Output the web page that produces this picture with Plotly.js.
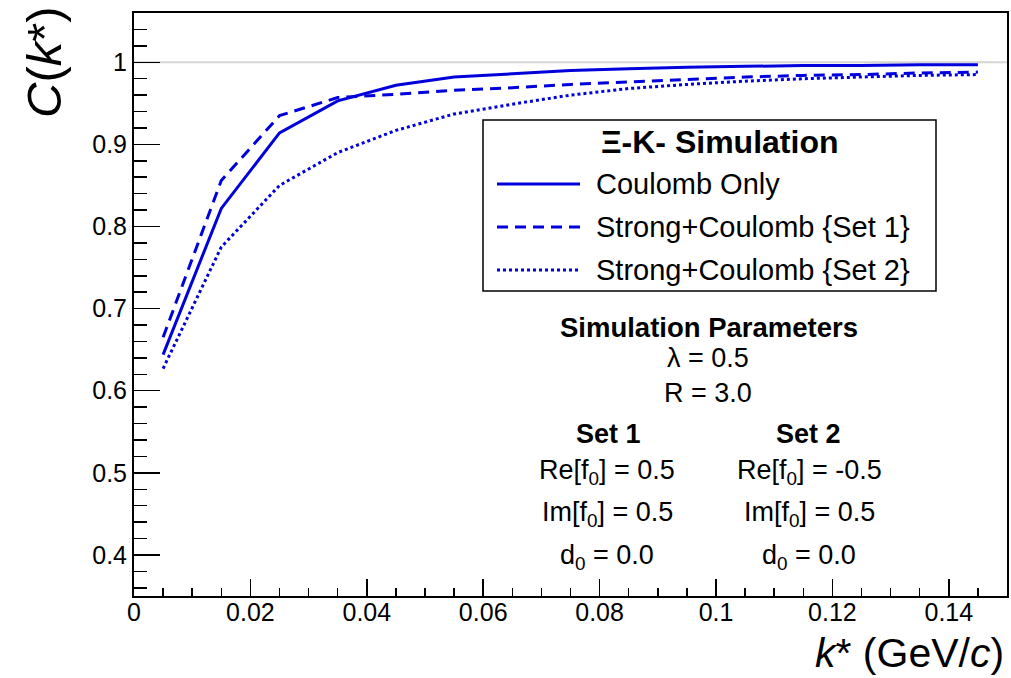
<!DOCTYPE html>
<html>
<head>
<meta charset="utf-8">
<script src="https://cdn.plot.ly/plotly-3.0.1.min.js"></script>
<style>html,body{margin:0;padding:0;background:#fff;}#chart{width:1011px;height:678px;}</style>
</head>
<body>
<div id="chart"></div>
<script>
// ---- data ----
const kstar = [0.005, 0.015, 0.025, 0.035, 0.045, 0.055, 0.065, 0.075, 0.085, 0.095, 0.105, 0.115, 0.125, 0.135, 0.145];
const coulombOnly = [0.644, 0.822, 0.914, 0.953, 0.972, 0.982, 0.986, 0.990, 0.992, 0.994, 0.995, 0.996, 0.996, 0.997, 0.997];
const strongSet1  = [0.665, 0.856, 0.935, 0.957, 0.961, 0.966, 0.969, 0.973, 0.976, 0.979, 0.982, 0.984, 0.985, 0.987, 0.988];
const strongSet2  = [0.627, 0.775, 0.850, 0.890, 0.917, 0.937, 0.949, 0.960, 0.968, 0.973, 0.977, 0.980, 0.982, 0.984, 0.985];
const seriesNames = ["Coulomb Only", "Strong+Coulomb {Set 1}", "Strong+Coulomb {Set 2}"];
const legendTitle = "Ξ-K- Simulation";
const paramLines = ["λ = 0.5", "R = 3.0"];
const set1Lines = ["Re[f<sub>0</sub>] = 0.5", "Im[f<sub>0</sub>] = 0.5", "d<sub>0</sub> = 0.0"];
const set2Lines = ["Re[f<sub>0</sub>] = -0.5", "Im[f<sub>0</sub>] = 0.5", "d<sub>0</sub> = 0.0"];

// ---- layout helpers ----
const W = 1011, H = 678, ML = 134, MR = 4, MT = 13, MB = 82;
const PW = W - ML - MR, PH = H - MT - MB;
const px = x => (x - ML) / PW;
const py = y => (H - MB - y) / PH;
const FONT = "Liberation Sans, Arial, Helvetica, sans-serif";
const BLUE = "#0000dd";
const dashes = ["solid", "11px,7px", "3px,3px"];
const seriesY = [coulombOnly, strongSet1, strongSet2];

const traces = seriesY.map((ys, i) => ({
  x: kstar, y: ys, type: "scatter", mode: "lines", name: seriesNames[i],
  line: {color: BLUE, width: 3, dash: dashes[i]}, showlegend: false
}));

const shapes = [
  {type: "line", xref: "paper", yref: "y", x0: 0, x1: 1, y0: 1, y1: 1,
   line: {color: "#d4d4d4", width: 2}, layer: "below"},
  {type: "rect", xref: "paper", yref: "paper", x0: px(483), x1: px(936), y0: py(291), y1: py(120),
   line: {color: "black", width: 1.5}, fillcolor: "white"}
];
const rowsY = [184, 227, 270];
rowsY.forEach((yy, i) => {
  shapes.push({type: "line", xref: "paper", yref: "paper", x0: px(497), x1: px(580), y0: py(yy), y1: py(yy),
    line: {color: BLUE, width: 3, dash: dashes[i]}});
});

const ann = [];
function txt(text, x, y, size, opts) {
  ann.push(Object.assign({text: text, xref: "paper", yref: "paper", x: px(x), y: py(y),
    xanchor: "center", yanchor: "middle", showarrow: false,
    font: {family: FONT, size: size, color: "black"}}, opts || {}));
}
txt("<b>" + legendTitle + "</b>", 719, 142, 32);
seriesNames.forEach((n, i) => txt(n, 594, rowsY[i], 29, {xanchor: "left"}));
txt("<b>Simulation Parameters</b>", 709, 327, 27.5);
txt(paramLines[0], 708, 358, 27);
txt(paramLines[1], 708, 393, 27);
txt("<b>Set 1</b>", 608, 434, 27);
txt("<b>Set 2</b>", 808, 434, 27);
const rowY2 = [472, 514, 557];
set1Lines.forEach((t, i) => txt(t, 607, rowY2[i], 27));
set2Lines.forEach((t, i) => txt(t, 809, rowY2[i], 27));
// axis titles (ROOT style: right / top aligned)
txt("<i>k</i>* (GeV/<i>c</i>)", 1006, 653, 41, {xanchor: "right"});
txt("<i>C</i>(<i>k</i>*)", 44, 4, 49, {xanchor: "center", yanchor: "top", textangle: -90});

const layout = {
  width: W, height: H,
  margin: {l: ML, r: MR, t: MT, b: MB, pad: 0},
  paper_bgcolor: "white", plot_bgcolor: "white",
  font: {family: FONT, size: 25, color: "black"},
  showlegend: false,
  xaxis: {
    range: [0, 0.15], tick0: 0, dtick: 0.02, ticks: "inside", ticklen: 17, tickwidth: 1.5, tickcolor: "black",
    minor: {ticks: "inside", ticklen: 8, dtick: 0.005, tickwidth: 1.5, tickcolor: "black", showgrid: false},
    showline: true, linecolor: "black", linewidth: 2, mirror: true, showgrid: false, zeroline: false,
    tickfont: {family: FONT, size: 25}, ticklabelstandoff: -7
  },
  yaxis: {
    range: [0.35, 1.06], tick0: 0, dtick: 0.1, ticks: "inside", ticklen: 26, tickwidth: 1.5, tickcolor: "black",
    minor: {ticks: "inside", ticklen: 13, dtick: 0.02, tickwidth: 1.5, tickcolor: "black", showgrid: false},
    showline: true, linecolor: "black", linewidth: 2, mirror: true, showgrid: false, zeroline: false,
    tickfont: {family: FONT, size: 25}
  },
  shapes: shapes,
  annotations: ann
};
Plotly.newPlot("chart", traces, layout, {staticPlot: true, displayModeBar: false});
</script>
</body>
</html>
